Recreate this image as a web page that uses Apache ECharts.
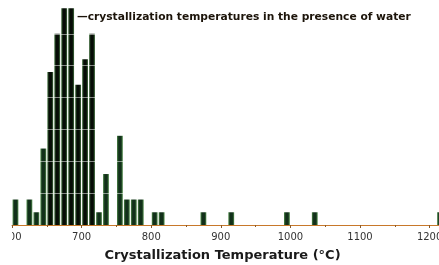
<!DOCTYPE html>
<html>
<head>
<meta charset="utf-8">
<script src="https://cdn.jsdelivr.net/npm/echarts@6/dist/echarts.min.js"></script>
<style>
  html, body { margin: 0; padding: 0; background: #fff; }
  #chart { width: 439px; height: 265px; }
</style>
</head>
<body>
<div id="chart"></div>
<script>
// bin start (°C, 10-degree bins) and number of samples
const binStarts = [600, 620, 630, 640, 650, 660, 670, 680, 690, 700, 710, 720, 730, 750, 760, 770, 780, 800, 810, 870, 910, 990, 1030, 1210]
const counts    = [2,   2,   1,   6,   12,  15,  17,  17,  11,  13,  15,  1,   4,   7,   2,   2,   2,   1,   1,   1,   1,   1,   1,    1]
const xTicks = [600, 700, 800, 900, 1000, 1100, 1200]
const gridLevels = [2.5, 5, 7.5, 10, 12.5, 15, 17.5]
const axisTitle = 'Crystallization Temperature (°C)'
const note = '—crystallization temperatures in the presence of water'

const chart = echarts.init(document.getElementById('chart'))

// bars sit in the middle of their 10° bin
const barData = binStarts.map((b, i) => [b + 5, counts[i]])

// tall bars look almost black in the middle, short ones stay greener
function barColor(p) {
  const tall = p.value[1] >= 10
  const mid = tall ? '#060c06' : '#12301a'
  const side = tall ? '#3f6f3c' : '#4f8a4a'
  return new echarts.graphic.LinearGradient(0, 0, 1, 0, [
    { offset: 0, color: side },
    { offset: 0.3, color: mid },
    { offset: 0.7, color: mid },
    { offset: 1, color: side }
  ])
}

chart.setOption({
  animation: false,
  title: {
    text: note,
    left: 77,
    top: 12,
    padding: 0,
    textStyle: { fontFamily: 'DejaVu Sans', fontWeight: 'bold', fontSize: 10.7, color: '#1c140a' }
  },
  grid: { left: 12, right: 0, top: 2, bottom: 40, outerBoundsMode: 'none' },
  xAxis: {
    type: 'value',
    min: 600,
    max: 1213.5,
    interval: 100,
    z: 4,
    name: axisTitle,
    nameLocation: 'middle',
    nameGap: 24,
    nameTextStyle: { fontFamily: 'DejaVu Sans', fontWeight: 'bold', fontSize: 13, color: '#1a1a1a', padding: [0, 6, 0, 0] },
    axisLine: { lineStyle: { color: '#c8782a', width: 1 } },
    axisTick: { show: true, length: 3, lineStyle: { color: '#8a5a2a' } },
    minorTick: { show: true, splitNumber: 2, length: 2, lineStyle: { color: '#8a5a2a' } },
    splitLine: { show: false },
    axisLabel: {
      margin: 7,
      fontFamily: 'DejaVu Sans',
      fontSize: 10,
      color: '#333',
      showMaxLabel: false,
      formatter: v => (xTicks.includes(v) ? String(v) : '')
    }
  },
  yAxis: {
    type: 'value',
    min: 0,
    max: 17.5,
    interval: 2.5,
    show: false,
    splitLine: { show: false }
  },
  series: [
    {
      type: 'bar',
      data: barData,
      barWidth: 5.8,
      itemStyle: { color: barColor },
      // light rules that only show where they cross the dark bars
      markLine: {
        silent: true,
        symbol: 'none',
        label: { show: false },
        lineStyle: { color: 'rgba(255,255,255,0.5)', width: 1, type: 'solid' },
        data: gridLevels.map(v => ({ yAxis: v }))
      }
    }
  ],
  graphic: [
    // the original picture is cropped at the left, through the "600" label
    { type: 'rect', left: 0, top: 229, shape: { width: 12, height: 16 }, style: { fill: '#fff' }, z: 100 }
  ]
})
</script>
</body>
</html>
